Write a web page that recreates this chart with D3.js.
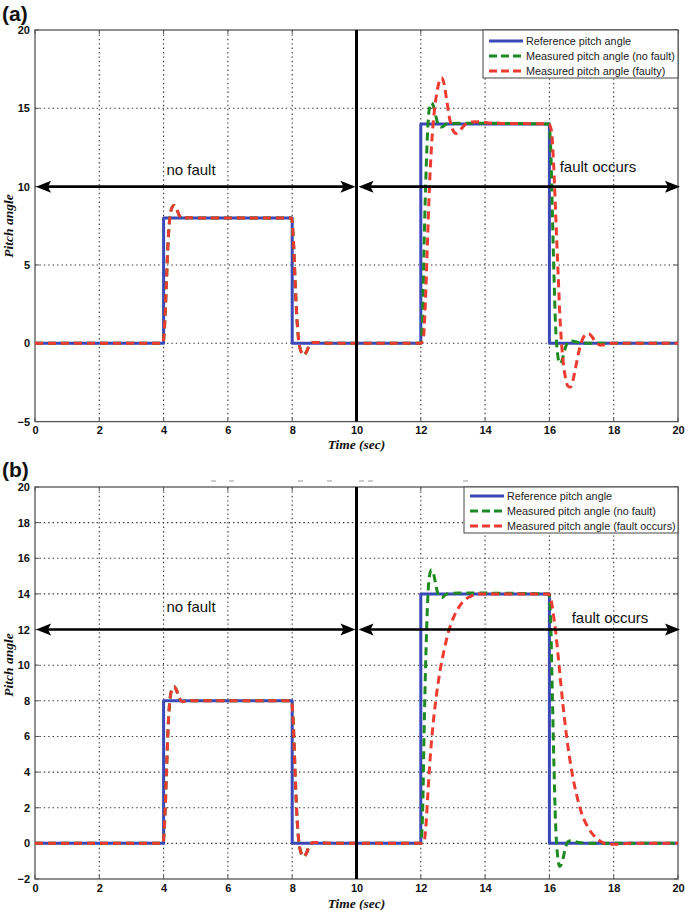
<!DOCTYPE html>
<html><head><meta charset="utf-8">
<script src="https://cdn.jsdelivr.net/npm/d3@7"></script>
<style>body{margin:0;background:#fff}svg{display:block}</style>
</head><body>
<svg id="c" width="685" height="910"></svg>
<script>
// ---------- DATA ----------
const xTicks = [0,2,4,6,8,10,12,14,16,18,20];
const yTicksA = [-5,0,5,10,15,20];
const yTicksB = [-2,0,2,4,6,8,10,12,14,16,18,20];

const reference = [[0,0],[4,0],[4,8],[8,8],[8,0],[12,0],[12,14],[16,14],[16,0],[20,0]];

const pulse1 = [[0,0],[3.98,0],[4.04,1.5],[4.09,4],[4.14,6.5],[4.2,8.1],[4.27,8.7],[4.33,8.8],[4.4,8.6],[4.48,8.2],[4.58,7.95],[4.75,8.02],[5,8],[7.98,8],[8.04,6.5],[8.09,4],[8.14,1.8],[8.2,0.2],[8.27,-0.5],[8.35,-0.75],[8.43,-0.6],[8.52,-0.2],[8.65,0.05],[8.85,0.05],[9.2,0],[11.98,0]];

const greenPulse2 = [[12.0,0],[12.06,2],[12.1,6],[12.15,10],[12.2,13],[12.26,14.9],[12.33,15.35],[12.4,15.1],[12.48,14.4],[12.56,13.85],[12.66,13.8],[12.8,14],[13.2,14.05],[15.98,14],[16.04,12.5],[16.09,8.5],[16.14,4.5],[16.19,1.2],[16.25,-0.6],[16.32,-1.3],[16.4,-1.05],[16.48,-0.4],[16.58,0.1],[16.7,0.15],[16.9,0.05],[17.3,0],[20,0]];

const redPulse2A = [[12.0,0],[12.08,0.3],[12.14,2.5],[12.2,6],[12.27,10],[12.34,12.8],[12.42,14.8],[12.5,16.0],[12.58,16.75],[12.65,16.95],[12.72,16.6],[12.8,15.6],[12.9,14.3],[13.0,13.6],[13.1,13.4],[13.22,13.6],[13.35,13.9],[13.5,14.1],[13.8,14.15],[14.2,14.05],[15.98,14.0],[16.06,13.6],[16.13,11.5],[16.2,8],[16.27,4.5],[16.34,1.2],[16.42,-1.0],[16.5,-2.2],[16.58,-2.75],[16.65,-2.8],[16.73,-2.4],[16.82,-1.5],[16.92,-0.5],[17.02,0.2],[17.12,0.55],[17.22,0.62],[17.33,0.4],[17.45,0.05],[17.58,-0.12],[17.75,-0.08],[17.95,0],[20,0]];

const redPulse2B = [[12.0,0],[12.1,0.1],[12.16,1],[12.22,2.8],[12.3,5],[12.4,7],[12.5,8.5],[12.6,9.7],[12.72,10.8],[12.85,11.8],[13.0,12.6],[13.2,13.3],[13.4,13.7],[13.6,13.9],[13.85,14.0],[15.98,14],[16.06,13.6],[16.12,12.9],[16.2,11.8],[16.3,10.0],[16.42,7.8],[16.55,5.8],[16.7,4.0],[16.85,2.7],[17.0,1.7],[17.2,0.9],[17.4,0.4],[17.6,0.1],[17.8,-0.05],[18.1,-0.05],[18.5,0],[20,0]];

const legendA = ["Reference pitch angle","Measured pitch angle (no fault)","Measured pitch angle (faulty)"];
const legendB = ["Reference pitch angle","Measured pitch angle (no fault)","Measured pitch angle (fault occurs)"];
const noteLeft = "no fault", noteRight = "fault occurs";
const xLabel = "Time (sec)", yLabel = "Pitch angle";
const strayDashX = [211,229,298,327,359,368,463];

// ---------- STYLE ----------
const BLUE = "#3a48b8", GREEN = "#1d8a22", RED = "#ec3b30";
const svg = d3.select("#c");

function panel(cfg){
  const x = d3.scaleLinear().domain([0,20]).range([35,678]);
  const y = d3.scaleLinear().domain(cfg.yDom).range(cfg.yRange);
  const g = svg.append("g");
  const [y0,y1] = cfg.yRange; // bottom, top
  // grid
  g.selectAll(".gx").data(xTicks.slice(1,-1)).join("line")
    .attr("x1",d=>x(d)).attr("x2",d=>x(d)).attr("y1",y1).attr("y2",y0)
    .attr("stroke","#333").attr("stroke-width",1.1).attr("stroke-dasharray","1.4,3");
  g.selectAll(".gy").data(cfg.yTicks.slice(1,-1)).join("line")
    .attr("x1",x(0)).attr("x2",x(20)).attr("y1",d=>y(d)).attr("y2",d=>y(d))
    .attr("stroke","#333").attr("stroke-width",1.1).attr("stroke-dasharray","1.4,3");
  // box
  g.append("rect").attr("x",x(0)).attr("y",y1).attr("width",x(20)-x(0)).attr("height",y0-y1)
    .attr("fill","none").attr("stroke","#555").attr("stroke-width",1.3);
  // axes labels
  const ax = d3.axisBottom(x).tickValues(xTicks).tickSize(0).tickPadding(5);
  const gxA = g.append("g").attr("transform",`translate(0,${y0})`).call(ax);
  gxA.select(".domain").remove();
  gxA.selectAll("text").attr("font-family","Liberation Sans, Arial").attr("font-weight","bold").attr("font-size",11).attr("fill","#111");
  const ay = d3.axisLeft(y).tickValues(cfg.yTicks).tickSize(0).tickPadding(5);
  const gyA = g.append("g").attr("transform",`translate(${x(0)},0)`).call(ay);
  gyA.select(".domain").remove();
  gyA.selectAll("text").attr("font-family","Liberation Sans, Arial").attr("font-weight","bold").attr("font-size",11).attr("fill","#111");
  // small inner ticks
  g.selectAll(".tb").data(xTicks).join("line").attr("x1",d=>x(d)).attr("x2",d=>x(d)).attr("y1",y0).attr("y2",y0-4).attr("stroke","#555");
  g.selectAll(".tt").data(xTicks).join("line").attr("x1",d=>x(d)).attr("x2",d=>x(d)).attr("y1",y1).attr("y2",y1+4).attr("stroke","#555");
  g.selectAll(".tl").data(cfg.yTicks).join("line").attr("x1",x(0)).attr("x2",x(0)+4).attr("y1",d=>y(d)).attr("y2",d=>y(d)).attr("stroke","#555");
  g.selectAll(".tr").data(cfg.yTicks).join("line").attr("x1",x(20)).attr("x2",x(20)-4).attr("y1",d=>y(d)).attr("y2",d=>y(d)).attr("stroke","#555");

  // titles
  g.append("text").attr("x",x(10)).attr("y",y0+cfg.xlabOff).attr("text-anchor","middle")
    .attr("font-family","Liberation Serif, Times New Roman").attr("font-style","italic").attr("font-weight","bold")
    .attr("font-size",13.5).attr("fill","#111").text(xLabel);
  g.append("text").attr("transform",`translate(13,${cfg.ylabY}) rotate(-90)`).attr("text-anchor","middle")
    .attr("font-family","Liberation Serif, Times New Roman").attr("font-style","italic").attr("font-weight","bold")
    .attr("font-size",13.5).attr("fill","#111").text(yLabel);
  g.append("text").attr("x",2).attr("y",cfg.tagY).attr("font-family","Liberation Sans, Arial").attr("font-weight","bold")
    .attr("font-size",21).attr("fill","#111").text(cfg.tag);

  // data lines
  const line = d3.line().x(d=>x(d[0])).y(d=>y(d[1])).curve(d3.curveMonotoneX);
  const stepLine = d3.line().x(d=>x(d[0])).y(d=>y(d[1]));
  g.append("path").attr("d",stepLine(reference)).attr("fill","none").attr("stroke",BLUE).attr("stroke-width",3).attr("stroke-linejoin","round");
  const green = pulse1.concat(greenPulse2);
  const red = pulse1.concat(cfg.red2);
  g.append("path").attr("d",line(green)).attr("fill","none").attr("stroke",GREEN).attr("stroke-width",3).attr("stroke-dasharray","8,5");
  g.append("path").attr("d",line(red)).attr("fill","none").attr("stroke",RED).attr("stroke-width",3).attr("stroke-dasharray","8,5");

  // vertical divider
  g.append("line").attr("x1",x(10)).attr("x2",x(10)).attr("y1",y1).attr("y2",y0).attr("stroke","#000").attr("stroke-width",3);

  // arrows
  const ya = y(cfg.arrowY);
  function arrow(xa, xb){
    g.append("line").attr("x1",xa+12).attr("x2",xb-12).attr("y1",ya).attr("y2",ya).attr("stroke","#000").attr("stroke-width",2.6);
    g.append("path").attr("d",`M${xa},${ya}L${xa+15},${ya-6}L${xa+12},${ya}L${xa+15},${ya+6}Z`).attr("fill","#000");
    g.append("path").attr("d",`M${xb},${ya}L${xb-15},${ya-6}L${xb-12},${ya}L${xb-15},${ya+6}Z`).attr("fill","#000");
  }
  arrow(x(0)+1, x(10)-1);
  arrow(x(10)+2, x(20)+2);

  // notes
  g.append("text").attr("x",cfg.noteL[0]).attr("y",cfg.noteL[1]).attr("text-anchor","middle")
    .attr("font-family","Liberation Sans, Arial").attr("font-size",15).attr("fill","#111").text(noteLeft);
  g.append("text").attr("x",cfg.noteR[0]).attr("y",cfg.noteR[1]).attr("text-anchor","middle")
    .attr("font-family","Liberation Sans, Arial").attr("font-size",15).attr("fill","#111").text(noteRight);

  // legend
  const L = cfg.leg;
  g.append("rect").attr("x",L.x).attr("y",L.y).attr("width",x(20)-L.x).attr("height",L.h)
    .attr("fill","#fff").attr("stroke","#444").attr("stroke-width",1);
  const cols = [BLUE,GREEN,RED];
  cfg.legend.forEach((t,i)=>{
    const yy = L.y + L.r0 + i*L.dr;
    g.append("line").attr("x1",L.x+6).attr("x2",L.x+40).attr("y1",yy).attr("y2",yy)
      .attr("stroke",cols[i]).attr("stroke-width",3).attr("stroke-dasharray",i?"8,4":null);
    g.append("text").attr("x",L.x+43).attr("y",yy+4).attr("font-family","Liberation Sans, Arial")
      .attr("font-size",10.8).attr("fill","#222").text(t);
  });
}

panel({yDom:[-5,20], yRange:[421.6,30], yTicks:yTicksA, red2:redPulse2A, arrowY:10,
  xlabOff:27, ylabY:226, tag:"(a)", tagY:21, noteL:[191,175], noteR:[598,172],
  legend:legendA, leg:{x:483,y:30,h:48,r0:11,dr:15}});
panel({yDom:[-2,20], yRange:[879,487], yTicks:yTicksB, red2:redPulse2B, arrowY:12,
  xlabOff:29, ylabY:665, tag:"(b)", tagY:477, noteL:[191,612], noteR:[610,623],
  legend:legendB, leg:{x:464,y:487,h:46,r0:9,dr:15}});

// stray marks above panel b
svg.selectAll(".stray").data(strayDashX).join("line").attr("x1",d=>d).attr("x2",d=>d+5)
  .attr("y1",481).attr("y2",481).attr("stroke","#999").attr("stroke-width",1);
</script>
</body></html>
